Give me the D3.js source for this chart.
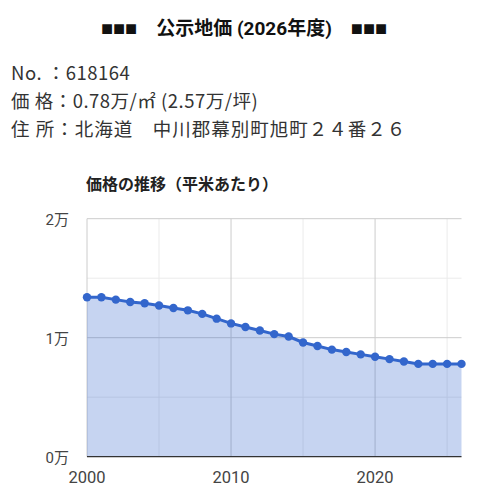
<!DOCTYPE html>
<html><head><meta charset="utf-8">
<script src="https://cdn.jsdelivr.net/npm/d3@7"></script>
<style>
html,body{margin:0;padding:0;background:#fff;}
svg{display:block;}
</style></head>
<body>
<svg id="c" width="480" height="499"></svg>
<script>
const titleMark = "■■■";
const titleText = "公示地価 (2026年度)";
const infoLines = ["No. ：618164", "価 格：0.78万/㎡ (2.57万/坪)", "住 所：北海道　中川郡幕別町旭町２４番２６"];
const chartTitle = "価格の推移（平米あたり）";
const years = [2000,2001,2002,2003,2004,2005,2006,2007,2008,2009,2010,2011,2012,2013,2014,2015,2016,2017,2018,2019,2020,2021,2022,2023,2024,2025,2026];
const prices = [13400,13400,13200,13000,12900,12700,12500,12300,12000,11600,11200,10900,10600,10300,10100,9600,9300,9000,8800,8600,8400,8200,8000,7800,7800,7800,7800];
const yTicks = [0,10000,20000];
const yMinor = [5000,15000];
const xTicks = [2000,2010,2020];
const xMinor = [2005,2015,2025];

const svg = d3.select("#c");
const cjk = "'Noto Sans CJK JP','Noto Sans',sans-serif";
const latin = "Roboto,'Noto Sans CJK JP',sans-serif";

const t = svg.append("text").attr("x",244).attr("y",35).attr("text-anchor","middle")
  .attr("font-weight","bold").attr("font-size",19).attr("fill","#111");
t.append("tspan").attr("font-family","'Liberation Sans',sans-serif").attr("font-size",20).text(titleMark);
t.append("tspan").attr("font-family",cjk).text("　");
t.append("tspan").attr("font-family",latin).text(titleText);
t.append("tspan").attr("font-family",cjk).text("　");
t.append("tspan").attr("font-family","'Liberation Sans',sans-serif").attr("font-size",20).text(titleMark);

infoLines.forEach((s,i)=>{
  svg.append("text").attr("x",11).attr("y",80+i*28).attr("font-family",cjk)
    .attr("font-size",18.5).attr("letter-spacing",i===2?1:0.5).attr("fill","#333").text(s);
});

svg.append("text").attr("x",86).attr("y",190).attr("font-family",cjk)
  .attr("font-weight","bold").attr("font-size",16).attr("fill","#222").text(chartTitle);

const x = d3.scaleLinear().domain([2000,2026]).range([87,461.5]);
const y = d3.scaleLinear().domain([0,20000]).range([456.7,218.7]);

const g = svg.append("g");
g.selectAll(".xm").data(xMinor).join("line").attr("x1",d=>x(d)).attr("x2",d=>x(d))
  .attr("y1",y(20000)).attr("y2",y(0)).attr("stroke","#ebebeb").attr("stroke-width",1);
g.selectAll(".ym").data(yMinor).join("line").attr("x1",x(2000)).attr("x2",x(2026))
  .attr("y1",d=>y(d)).attr("y2",d=>y(d)).attr("stroke","#ebebeb").attr("stroke-width",1);
g.selectAll(".xM").data(xTicks).join("line").attr("x1",d=>x(d)).attr("x2",d=>x(d))
  .attr("y1",y(20000)).attr("y2",y(0)).attr("stroke","#cccccc").attr("stroke-width",1);
g.selectAll(".yM").data(yTicks.filter(d=>d>0)).join("line").attr("x1",x(2000)).attr("x2",x(2026))
  .attr("y1",d=>y(d)).attr("y2",d=>y(d)).attr("stroke","#cccccc").attr("stroke-width",1);

const data = years.map((yr,i)=>({yr, v:prices[i]}));
const area = d3.area().x(d=>x(d.yr)).y0(y(0)).y1(d=>y(d.v));
svg.append("path").datum(data).attr("d",area).attr("fill","#3366cc").attr("fill-opacity",0.28);

svg.append("line").attr("x1",x(2000)).attr("x2",x(2026)).attr("y1",y(0)).attr("y2",y(0))
  .attr("stroke","#333").attr("stroke-width",1.2);

const line = d3.line().x(d=>x(d.yr)).y(d=>y(d.v));
svg.append("path").datum(data).attr("d",line).attr("fill","none").attr("stroke","#3366cc").attr("stroke-width",3);
svg.selectAll(".pt").data(data).join("circle").attr("cx",d=>x(d.yr)).attr("cy",d=>y(d.v))
  .attr("r",4.2).attr("fill","#3366cc");

const fmtY = d => (d/10000) + "万";
svg.selectAll(".yl").data(yTicks).join("text").attr("x",69).attr("y",d=>y(d)+6.5)
  .attr("text-anchor","end").attr("font-family",latin).attr("font-size",15)
  .attr("fill","#444").text(fmtY);
svg.selectAll(".xl").data(xTicks).join("text").attr("x",d=>x(d)).attr("y",483)
  .attr("text-anchor","middle").attr("font-family",latin).attr("font-size",16.5)
  .attr("fill","#444").text(d=>d);
</script>
</body></html>
